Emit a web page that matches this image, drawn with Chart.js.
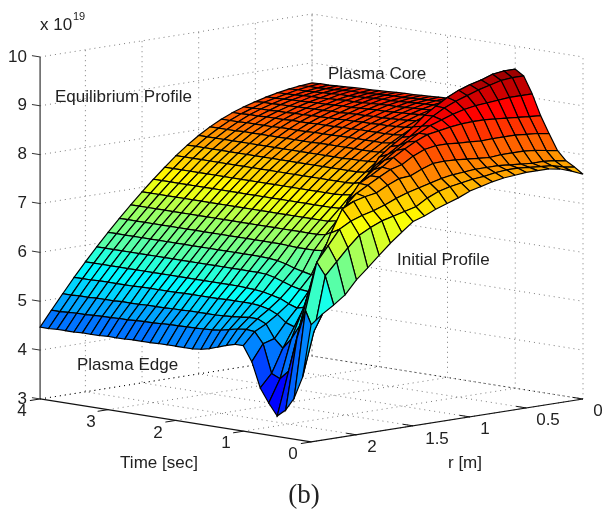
<!DOCTYPE html>
<html>
<head>
<meta charset="utf-8">
<title>Density surface</title>
<script src="https://cdn.jsdelivr.net/npm/chart.js@4"></script>
<style>
  html, body { margin: 0; padding: 0; background: #fff; }
  canvas { display: block; }
</style>
</head>
<body>
<canvas id="surface" width="602" height="512"></canvas>
<script>
// time grid [sec], one column per 0.125 s
var timeValues = [0, 0.125, 0.25, 0.375, 0.5, 0.625, 0.75, 0.875, 1, 1.125, 1.25, 1.375, 1.5, 1.625, 1.75, 1.875, 2,
  2.125, 2.25, 2.375, 2.5, 2.625, 2.75, 2.875, 3, 3.125, 3.25, 3.375, 3.5, 3.625, 3.75, 3.875, 4];
// radius grid [m]
var radiusValues = [0, 0.1, 0.2, 0.3, 0.4, 0.5, 0.6, 0.7, 0.8, 0.9, 1, 1.1, 1.2, 1.3, 1.4, 1.5, 1.6, 1.7, 1.8, 1.9, 2, 2.1, 2.2, 2.3, 2.4];

// density in units of 10^19, one list per radius
var densityR00 = [7.60,7.72,7.82,8.00,8.32,8.66,9.08,9.42,9.53,9.30,9.05,8.88,8.80,8.76,8.74,8.73,8.72,8.71,8.70,8.69,8.68,8.68,8.67,8.66,8.65,8.64,8.64,8.63,8.62,8.61,8.60,8.60,8.59];
var densityR01 = [7.70,7.76,7.86,8.04,8.36,8.68,9.08,9.42,9.53,9.29,9.04,8.87,8.79,8.75,8.72,8.71,8.70,8.69,8.68,8.67,8.66,8.66,8.65,8.64,8.63,8.62,8.62,8.61,8.60,8.59,8.58,8.58,8.57];
var densityR02 = [7.78,7.82,7.88,8.08,8.38,8.70,9.08,9.40,9.50,9.26,9.01,8.84,8.76,8.71,8.69,8.68,8.67,8.66,8.65,8.64,8.63,8.63,8.62,8.61,8.60,8.59,8.59,8.58,8.57,8.56,8.55,8.55,8.54];
var densityR03 = [7.82,7.84,7.88,8.10,8.40,8.72,9.06,9.34,9.42,9.18,8.93,8.78,8.70,8.66,8.64,8.63,8.62,8.61,8.60,8.60,8.59,8.58,8.57,8.56,8.56,8.55,8.54,8.53,8.53,8.52,8.51,8.50,8.50];
var densityR04 = [7.82,7.86,7.90,8.10,8.40,8.74,9.04,9.28,9.36,9.10,8.85,8.71,8.64,8.60,8.58,8.57,8.56,8.55,8.54,8.54,8.53,8.52,8.51,8.51,8.50,8.49,8.49,8.48,8.47,8.47,8.46,8.45,8.45];
var densityR05 = [7.82,7.88,7.92,8.10,8.40,8.76,9.02,9.20,9.28,9.00,8.76,8.62,8.56,8.52,8.50,8.49,8.48,8.47,8.47,8.46,8.46,8.45,8.44,8.44,8.43,8.43,8.42,8.42,8.41,8.41,8.40,8.40,8.39];
var densityR06 = [7.80,7.88,7.94,8.08,8.39,8.76,8.98,9.12,9.17,8.88,8.64,8.50,8.45,8.42,8.41,8.40,8.40,8.39,8.39,8.38,8.38,8.37,8.37,8.36,8.36,8.35,8.35,8.34,8.34,8.33,8.33,8.32,8.32];
var densityR07 = [7.78,7.86,7.94,8.10,8.41,8.75,8.92,9.02,9.03,8.74,8.50,8.38,8.33,8.31,8.30,8.30,8.30,8.30,8.29,8.29,8.28,8.28,8.28,8.27,8.27,8.27,8.26,8.26,8.26,8.25,8.25,8.24,8.24];
var densityR08 = [7.74,7.82,7.94,8.12,8.42,8.72,8.84,8.89,8.88,8.60,8.36,8.24,8.20,8.18,8.18,8.18,8.18,8.18,8.18,8.17,8.17,8.17,8.16,8.16,8.16,8.16,8.15,8.15,8.15,8.15,8.14,8.14,8.14];
var densityR09 = [7.68,7.80,7.92,8.14,8.44,8.68,8.76,8.72,8.68,8.40,8.18,8.08,8.05,8.04,8.04,8.04,8.04,8.04,8.04,8.04,8.03,8.03,8.03,8.03,8.03,8.03,8.03,8.03,8.03,8.02,8.02,8.02,8.02];
var densityR10 = [7.62,7.76,7.90,8.15,8.44,8.64,8.64,8.55,8.50,8.22,8.00,7.92,7.90,7.89,7.89,7.88,7.88,7.88,7.88,7.88,7.88,7.88,7.88,7.88,7.88,7.88,7.88,7.88,7.88,7.88,7.88,7.88,7.88];
var densityR11 = [7.52,7.72,7.86,8.14,8.40,8.54,8.50,8.40,8.35,8.04,7.82,7.74,7.72,7.72,7.72,7.72,7.72,7.72,7.72,7.72,7.72,7.72,7.72,7.72,7.72,7.72,7.72,7.72,7.72,7.72,7.72,7.72,7.72];
var densityR12 = [7.44,7.66,7.80,8.06,8.30,8.42,8.36,8.25,8.17,7.82,7.60,7.55,7.54,7.54,7.54,7.54,7.54,7.54,7.54,7.54,7.54,7.54,7.54,7.54,7.54,7.54,7.54,7.54,7.54,7.54,7.54,7.54,7.54];
var densityR13 = [7.36,7.56,7.74,7.96,8.16,8.28,8.20,8.08,7.85,7.50,7.38,7.35,7.34,7.34,7.34,7.34,7.34,7.34,7.34,7.34,7.34,7.34,7.34,7.34,7.34,7.34,7.34,7.34,7.34,7.34,7.34,7.34,7.34];
var densityR14 = [7.26,7.42,7.68,7.94,8.10,8.12,8.04,7.85,7.50,7.20,7.14,7.13,7.13,7.13,7.13,7.13,7.13,7.13,7.13,7.13,7.13,7.13,7.13,7.13,7.13,7.13,7.13,7.13,7.13,7.13,7.13,7.13,7.13];
var densityR15 = [7.18,7.36,7.60,7.84,7.98,7.98,7.86,7.50,7.10,6.95,6.91,6.91,6.91,6.91,6.91,6.91,6.91,6.91,6.91,6.91,6.91,6.91,6.91,6.91,6.91,6.91,6.91,6.91,6.91,6.91,6.91,6.91,6.91];
var densityR16 = [7.00,7.30,7.50,7.72,7.85,7.86,7.50,7.02,6.80,6.70,6.68,6.68,6.68,6.68,6.68,6.68,6.68,6.68,6.68,6.68,6.68,6.68,6.68,6.68,6.68,6.68,6.68,6.68,6.68,6.68,6.68,6.68,6.68];
var densityR17 = [6.81,7.24,7.42,7.68,7.72,7.55,7.00,6.55,6.44,6.42,6.42,6.42,6.43,6.44,6.44,6.44,6.44,6.44,6.44,6.44,6.44,6.44,6.44,6.44,6.44,6.44,6.44,6.44,6.44,6.44,6.44,6.44,6.44];
var densityR18 = [6.60,7.14,7.36,7.62,7.50,7.00,6.40,6.05,5.98,6.02,6.06,6.12,6.16,6.18,6.19,6.19,6.19,6.19,6.19,6.19,6.19,6.19,6.19,6.19,6.19,6.19,6.19,6.19,6.19,6.19,6.19,6.19,6.19];
var densityR19 = [6.38,7.02,7.28,7.50,7.00,6.30,5.85,5.70,5.72,5.76,5.82,5.88,5.92,5.93,5.93,5.93,5.93,5.93,5.93,5.93,5.93,5.93,5.93,5.93,5.93,5.93,5.93,5.93,5.93,5.93,5.93,5.93,5.93];
var densityR20 = [6.17,6.80,7.15,7.05,6.40,5.80,5.45,5.40,5.46,5.54,5.58,5.62,5.64,5.65,5.66,5.66,5.66,5.66,5.66,5.66,5.66,5.66,5.66,5.66,5.66,5.66,5.66,5.66,5.66,5.66,5.66,5.66,5.66];
var densityR21 = [5.90,6.55,6.85,6.50,6.00,5.45,5.08,5.14,5.28,5.36,5.40,5.42,5.42,5.42,5.42,5.41,5.41,5.41,5.41,5.41,5.40,5.40,5.40,5.40,5.40,5.39,5.39,5.39,5.39,5.39,5.38,5.38,5.38];
var densityR22 = [5.73,6.30,6.55,5.90,5.20,4.90,4.68,4.85,5.12,5.20,5.20,5.18,5.16,5.15,5.14,5.14,5.14,5.14,5.13,5.13,5.12,5.12,5.12,5.11,5.11,5.11,5.10,5.10,5.10,5.09,5.09,5.08,5.08];
var densityR23 = [5.58,5.20,5.60,5.00,4.30,4.12,4.20,4.78,5.00,5.02,5.00,4.96,4.92,4.90,4.89,4.88,4.88,4.87,4.87,4.86,4.85,4.85,4.84,4.83,4.83,4.82,4.82,4.81,4.80,4.80,4.79,4.78,4.78];
var densityR24 = [5.40,4.30,3.84,3.57,3.42,3.66,3.94,4.45,4.75,4.75,4.70,4.64,4.58,4.54,4.52,4.52,4.52,4.52,4.52,4.51,4.51,4.51,4.50,4.50,4.50,4.49,4.49,4.49,4.48,4.48,4.48,4.47,4.47];

var densityRows = [densityR00, densityR01, densityR02, densityR03, densityR04, densityR05, densityR06, densityR07, densityR08,
  densityR09, densityR10, densityR11, densityR12, densityR13, densityR14, densityR15, densityR16, densityR17, densityR18,
  densityR19, densityR20, densityR21, densityR22, densityR23, densityR24];

// axis ticks
var zTicks = [3, 4, 5, 6, 7, 8, 9, 10];
var timeTicks = [0, 1, 2, 3, 4];
var radiusTicks = [0, 0.5, 1, 1.5, 2];
var radiusTickLabels = ['0', '0.5', '1', '1.5', '2'];

var rMax = 2.4, tMax = 4, zMin = 3, zMax = 10;
var colorMin = 3.0, colorMax = 9.75;

// orthographic view of the axes box, matlab view(az, el) style
function project(r, t, z) {
  return {
    x: 583 - 113.3 * r - 67.75 * t,
    y: 399 + 17.9 * r - 10.75 * t - 48.86 * (z - zMin)
  };
}

function clamp01(v) {
  return Math.max(0, Math.min(1, v));
}

function jet(z) {
  var f = clamp01((z - colorMin) / (colorMax - colorMin));
  f = Math.floor(f * 63.999) / 63;
  var red = clamp01(Math.min(4 * f - 1.5, -4 * f + 4.5));
  var green = clamp01(Math.min(4 * f - 0.5, -4 * f + 3.5));
  var blue = clamp01(Math.min(4 * f + 0.5, -4 * f + 2.5));
  return 'rgb(' + Math.round(red * 255) + ',' + Math.round(green * 255) + ',' + Math.round(blue * 255) + ')';
}

function lineDataset(points, color, width, dash) {
  return {
    data: points,
    showLine: true,
    fill: false,
    borderColor: color,
    borderWidth: width,
    borderDash: dash || [],
    pointRadius: 0,
    tension: 0
  };
}

var datasets = [];
var i, j;

// chart.js paints the first dataset last, so front cells go first
for (i = 0; i < timeValues.length - 1; i++) {
  for (j = radiusValues.length - 2; j >= 0; j--) {
    var z00 = densityRows[j][i], z01 = densityRows[j][i + 1];
    var z10 = densityRows[j + 1][i], z11 = densityRows[j + 1][i + 1];
    var cell = lineDataset([
      project(radiusValues[j], timeValues[i], z00),
      project(radiusValues[j], timeValues[i + 1], z01),
      project(radiusValues[j + 1], timeValues[i + 1], z11),
      project(radiusValues[j + 1], timeValues[i], z10),
      project(radiusValues[j], timeValues[i], z00)
    ], '#000', 1.2);
    cell.cellColor = jet((z00 + z01 + z10 + z11) / 4);
    datasets.push(cell);
  }
}

// axes
var axisColor = '#111';
datasets.push(lineDataset([project(rMax, tMax, zMin), project(rMax, 0, zMin), project(0, 0, zMin)], axisColor, 1.2));
datasets.push(lineDataset([project(rMax, tMax, zMin), project(rMax, tMax, zMax)], '#333', 1.2));
zTicks.forEach(function(z) {
  datasets.push(lineDataset([project(rMax, tMax, z), project(rMax, tMax + 0.12, z)], '#333', 1));
});
timeTicks.forEach(function(t) {
  datasets.push(lineDataset([project(rMax, t, zMin), project(rMax + 0.09, t, zMin)], axisColor, 1));
});
radiusTicks.forEach(function(r) {
  datasets.push(lineDataset([project(r, 0, zMin), project(r, 0.15, zMin)], axisColor, 1));
});

// dotted grid on the two back walls and the floor
var gridColor = 'rgba(80,80,80,0.75)';
var gridDash = [1, 4];
datasets.push(lineDataset([project(rMax, tMax, zMin), project(0, tMax, zMin), project(0, 0, zMin)], '#000', 1, gridDash));
zTicks.forEach(function(z) {
  if (z === zMin) return;
  datasets.push(lineDataset([project(rMax, tMax, z), project(0, tMax, z), project(0, 0, z)], gridColor, 1, gridDash));
});
radiusTicks.forEach(function(r) {
  datasets.push(lineDataset([project(r, 0, zMin), project(r, tMax, zMin), project(r, tMax, zMax)], gridColor, 1, gridDash));
});
timeTicks.forEach(function(t) {
  datasets.push(lineDataset([project(rMax, t, zMin), project(0, t, zMin), project(0, t, zMax)], gridColor, 1, gridDash));
});

// real text, placed next to the thing it names
var sansFont = '17px "Liberation Sans", Arial, sans-serif';
var texts = [
  { text: 'x 10', x: 40, y: 25, align: 'left', font: sansFont },
  { text: '19', x: 73, y: 16.5, align: 'left', font: '11px "Liberation Sans", Arial, sans-serif' },
  { text: 'Equilibrium Profile', x: 55, y: 97, align: 'left', font: sansFont },
  { text: 'Plasma Core', x: 328, y: 74, align: 'left', font: sansFont },
  { text: 'Plasma Edge', x: 77, y: 365, align: 'left', font: sansFont },
  { text: 'Initial Profile', x: 397, y: 260, align: 'left', font: sansFont },
  { text: 'Time [sec]', x: 159, y: 463, align: 'center', font: sansFont },
  { text: 'r [m]', x: 465, y: 463, align: 'center', font: sansFont },
  { text: '(b)', x: 304, y: 496, align: 'center', font: '27px "Liberation Serif", serif' }
];
zTicks.forEach(function(z) {
  texts.push({ text: String(z), x: 27, y: project(rMax, tMax, z).y, align: 'right', font: sansFont });
});
var timeLabelPos = [[293, 454], [226, 443], [158, 433], [91, 422], [22, 411]];
timeTicks.forEach(function(t, k) {
  texts.push({ text: String(t), x: timeLabelPos[k][0], y: timeLabelPos[k][1], align: 'center', font: sansFont });
});
var radiusLabelPos = [[598, 411], [548, 420], [485, 429], [437, 439], [372, 447]];
radiusTickLabels.forEach(function(label, k) {
  texts.push({ text: label, x: radiusLabelPos[k][0], y: radiusLabelPos[k][1], align: 'center', font: sansFont });
});

// chart.js has no closed polygon fill for scatter lines, paint it under each cell outline
var cellFillPlugin = {
  id: 'cellFill',
  beforeDatasetDraw: function(chart, args) {
    var ds = chart.data.datasets[args.index];
    if (!ds.cellColor) return;
    var pts = args.meta.data;
    var ctx = chart.ctx;
    ctx.save();
    ctx.beginPath();
    ctx.moveTo(pts[0].x, pts[0].y);
    for (var k = 1; k < pts.length; k++) {
      ctx.lineTo(pts[k].x, pts[k].y);
    }
    ctx.closePath();
    ctx.fillStyle = ds.cellColor;
    ctx.fill();
    ctx.restore();
  }
};

var labelPlugin = {
  id: 'labels',
  afterDraw: function(chart) {
    var ctx = chart.ctx;
    ctx.save();
    ctx.fillStyle = '#222';
    ctx.textBaseline = 'middle';
    texts.forEach(function(item) {
      ctx.font = item.font;
      ctx.textAlign = item.align;
      ctx.fillText(item.text, item.x, item.y);
    });
    ctx.restore();
  }
};

var ctx = document.getElementById('surface').getContext('2d');
var chart = new Chart(ctx, {
  type: 'scatter',
  data: { datasets: datasets },
  options: {
    responsive: false,
    animation: false,
    layout: { padding: 0 },
    plugins: { legend: { display: false }, tooltip: { enabled: false } },
    scales: {
      x: { type: 'linear', min: 0, max: 602, display: false },
      y: { type: 'linear', min: 0, max: 512, reverse: true, display: false }
    }
  },
  plugins: [cellFillPlugin, labelPlugin]
});
</script>
</body>
</html>
